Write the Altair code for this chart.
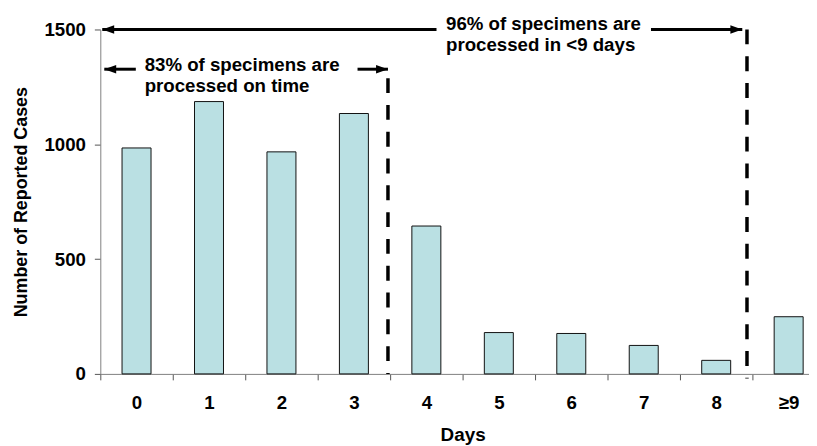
import altair as alt
import pandas as pd

# ---- data ----
days = ["0", "1", "2", "3", "4", "5", "6", "7", "8", "≥9"]
cases = [984, 1186, 967, 1134, 644, 180, 176, 124, 59, 249]

# annotation geometry in data units (x: day position 0..10, y: cases)
seg_x1 = [0.027, 7.60, 0.055, 3.55]
seg_x2 = [4.64, 8.86, 0.49, 3.97]
seg_y = [1500, 1500, 1327, 1327]

dash_x = [3.97, 8.925]
dash_top = [1288, 1500]
dash_bottom = [0, -20]

head_left_x = [0.027, 0.055]
head_left_y = [1500, 1327]
head_right_x = [8.86, 3.97]
head_right_y = [1500, 1327]

note_x = [4.771, 0.612]
note_y = [1562, 1382]
note_text = ["96% of specimens are\nprocessed in <9 days",
             "83% of specimens are\nprocessed on time"]

FONT = "Liberation Sans"
FS = 18.8

bars_df = pd.DataFrame({"day": days, "cases": cases})
seg_df = pd.DataFrame({"x1": seg_x1, "x2": seg_x2, "y": seg_y})
dash_df = pd.DataFrame({"x": dash_x, "y1": dash_top, "y2": dash_bottom})
hl_df = pd.DataFrame({"x": head_left_x, "y": head_left_y})
hr_df = pd.DataFrame({"x": head_right_x, "y": head_right_y})
note_df = pd.DataFrame({"x": note_x, "y": note_y, "t": note_text})

yscale = alt.Scale(domain=[0, 1500])
xq = alt.Scale(domain=[0, 10], range=[0, 730])

bars = alt.Chart(bars_df).mark_bar(
    fill="#BAE0E3", stroke="#111111", strokeWidth=1,
    width=alt.RelativeBandSize(0.4)
).encode(
    x=alt.X("day:N", sort=days,
            scale=alt.Scale(range=[0, 730], paddingInner=0, paddingOuter=0),
            axis=alt.Axis(title="Days", labelAngle=0, tickBand="extent",
                          tickSize=6, labelPadding=14, titlePadding=13,
                          domainColor="#808080", tickColor="#555555",
                          labelFontSize=FS, labelFontWeight="bold",
                          titleFontSize=19, titleFontWeight="bold",
                          labelColor="black", titleColor="black")),
    y=alt.Y("cases:Q", scale=yscale,
            axis=alt.Axis(title="Number of Reported Cases", values=[0, 500, 1000, 1500],
                          format="d",
                          grid=False, tickSize=6, labelPadding=9, titlePadding=14,
                          domainColor="#808080", tickColor="#555555",
                          labelFontSize=FS, labelFontWeight="bold",
                          titleFontSize=18, titleFontWeight="bold",
                          labelColor="black", titleColor="black")),
)

segs = alt.Chart(seg_df).mark_rule(color="black", strokeWidth=3, strokeCap="butt").encode(
    x=alt.X("x1:Q", scale=xq, axis=None), x2="x2:Q",
    y=alt.Y("y:Q", scale=yscale),
)

dashes = alt.Chart(dash_df).mark_rule(color="black", strokeWidth=3.5,
                                      strokeDash=[15, 12], strokeCap="butt").encode(
    x=alt.X("x:Q", scale=xq, axis=None),
    y=alt.Y("y1:Q", scale=yscale), y2="y2:Q",
)

left_head = alt.Chart(hl_df).mark_point(
    shape="M0,0 L1,-0.36 L1,0.36 Z", filled=True, size=576,
    color="black", opacity=1, strokeWidth=0
).encode(x=alt.X("x:Q", scale=xq, axis=None), y=alt.Y("y:Q", scale=yscale))

right_head = alt.Chart(hr_df).mark_point(
    shape="M0,0 L-1,-0.36 L-1,0.36 Z", filled=True, size=576,
    color="black", opacity=1, strokeWidth=0
).encode(x=alt.X("x:Q", scale=xq, axis=None), y=alt.Y("y:Q", scale=yscale))

notes = alt.Chart(note_df).mark_text(
    align="left", baseline="top", fontSize=FS, fontWeight="bold",
    font=FONT, lineBreak="\n", lineHeight=21, color="black"
).encode(
    x=alt.X("x:Q", scale=xq, axis=None),
    y=alt.Y("y:Q", scale=yscale),
    text="t:N",
)

ann = alt.layer(segs, dashes, left_head, right_head, notes)

chart = alt.layer(bars, ann).resolve_scale(x="independent").properties(
    width=714, height=347,
    autosize=alt.AutoSizeParams(type="none"),
    padding={"left": 93, "top": 20, "right": 0, "bottom": 70},
).configure(
    font=FONT, background="white", view=alt.ViewConfig(stroke=None)
)

chart.save("out.html", embed_options={"renderer": "svg", "actions": False})
